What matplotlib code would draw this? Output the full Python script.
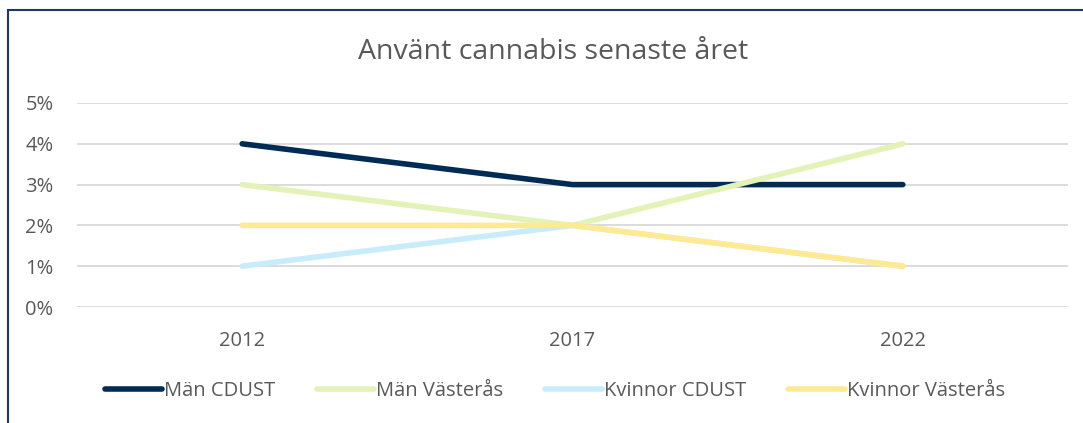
import matplotlib
matplotlib.use("Agg")
import matplotlib.pyplot as plt
from matplotlib.patches import Rectangle

years = ["2012", "2017", "2022"]
man_cdust = [4, 3, 3]
man_vasteras = [3, 2, 4]
kvinnor_cdust = [1, 2, 1]
kvinnor_vasteras = [2, 2, 1]
series_names = ["Män CDUST", "Män Västerås", "Kvinnor CDUST", "Kvinnor Västerås"]
y_ticks = [0, 1, 2, 3, 4, 5]

colors = ["#002B55", "#E3F2B6", "#C8ECFC", "#FFE991"]
text_color = "#595959"

plt.rcParams['font.family'] = ['Open Sans', 'DejaVu Sans']

fig = plt.figure(figsize=(10.83, 4.23), dpi=100)
ax = fig.add_axes([77/1083, 1 - 307/423, (1068-77)/1083, (307-103)/423])

x = list(range(len(years)))
data = [man_cdust, man_vasteras, kvinnor_cdust, kvinnor_vasteras]
for vals, c, name in zip(data, colors, series_names):
    ax.plot(x, vals, color=c, lw=4.0, solid_capstyle='round', label=name)

ax.set_xlim(-0.5, 2.5)
ax.set_ylim(0, 5)
ax.set_yticks(y_ticks)
ax.set_yticklabels([f"{v}%" for v in y_ticks])
ax.set_xticks(x)
ax.set_xticklabels(years)
ax.grid(axis='y', color='#D9D9D9', lw=1.3)
ax.set_axisbelow(True)
for s in ax.spines.values():
    s.set_visible(False)
ax.tick_params(axis='both', length=0, colors=text_color, labelsize=14.5)
ax.tick_params(axis='y', pad=17)
ax.tick_params(axis='x', pad=17.5)

fig.text(553/1083, 1 - 52/423, "Använt cannabis senaste året", ha='center', va='center',
         fontsize=20.5, color=text_color)

leg = fig.legend(loc='center', bbox_to_anchor=(555/1083, 1 - 391/423), ncol=4, frameon=False,
                 fontsize=14.5, handlelength=2.85, handletextpad=0.1, columnspacing=2.05,
                 labelcolor=text_color)

fig.patches.append(Rectangle((8/1083, -0.2), 1.2, 1 - 10/423 + 0.2, transform=fig.transFigure,
                             fill=False, edgecolor='#1F3864', lw=1.5))

fig.savefig("out.png", dpi=100)
